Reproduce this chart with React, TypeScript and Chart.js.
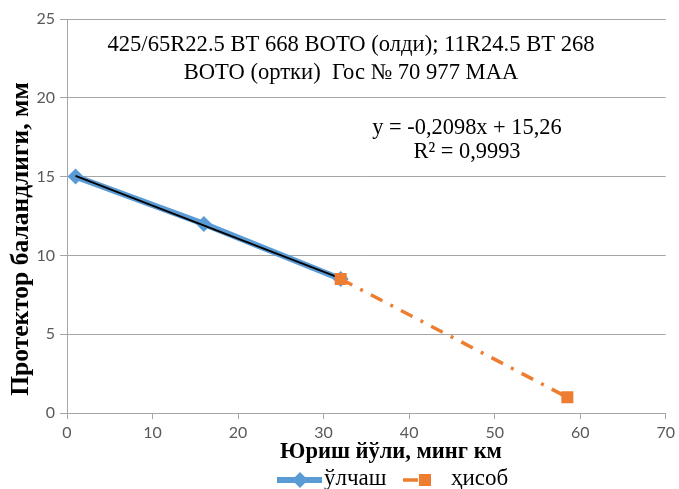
import React, { useEffect, useRef } from "react";
import { Chart, registerables } from "chart.js";

Chart.register(...registerables);

// Measured tread depth (mm) against mileage (thousand km)
const measuredKm = [1, 16, 32];
const measuredMm = [15, 12, 8.5];
// Calculated extension to the wear limit
const forecastKm = [32, 58.5];
const forecastMm = [8.5, 1];
// Linear fit of the measured points
const trendSlope = -0.2098;
const trendIntercept = 15.26;
const trendRangeKm = [1, 32];

const seriesNames = ["ўлчаш", "ҳисоб"];
const titleLines = [
  "425/65R22.5 BT 668 BOTO (олди); 11R24.5 BT 268",
  "BOTO (ортки)  Гос № 70 977 МАА",
];
const equationLines = ["y = -0,2098x + 15,26", "R² = 0,9993"];
const xTitle = "Юриш йўли, минг км";
const yTitle = "Протектор баландлиги, мм";

const BLUE = "#5B9BD5";
const ORANGE = "#ED7D31";
const GRID = "#A6A6A6";
const TICK = "#595959";
const SERIF = "'Liberation Serif', 'DejaVu Serif', serif";

const annotations = {
  id: "annotations",
  afterDraw(chart: any) {
    const { ctx } = chart;
    ctx.save();
    ctx.fillStyle = "#000";
    ctx.textBaseline = "middle";

    // caption inside the plot
    ctx.font = `22.6px ${SERIF}`;
    ctx.textAlign = "center";
    ctx.fillText(titleLines[0], 351, 45);
    ctx.fillText(titleLines[1], 351, 73);

    // regression equation
    ctx.font = `22.4px ${SERIF}`;
    ctx.fillText(equationLines[0], 467, 128);
    ctx.fillText(equationLines[1], 467, 152);

    // axis titles
    ctx.font = `bold 22.5px ${SERIF}`;
    ctx.fillText(xTitle, 391, 452);
    ctx.save();
    ctx.font = `bold 25.5px ${SERIF}`;
    ctx.translate(21, 239);
    ctx.rotate(-Math.PI / 2);
    ctx.fillText(yTitle, 0, 0);
    ctx.restore();

    // legend
    const ds = chart.data.datasets;
    const legendY = 480;
    const items = [
      { ds: ds[0], x0: 277, x1: 322, mark: 300, text: 324 },
      { ds: ds[2], x0: 403, x1: 418, mark: 425, text: 451 },
    ];
    ctx.font = `23px ${SERIF}`;
    ctx.textAlign = "left";
    items.forEach((it) => {
      ctx.save();
      ctx.strokeStyle = it.ds.borderColor;
      ctx.lineWidth = it.ds.borderWidth;
      ctx.beginPath();
      ctx.moveTo(it.x0, legendY);
      ctx.lineTo(it.x1, legendY);
      ctx.stroke();
      ctx.fillStyle = it.ds.pointBackgroundColor;
      ctx.beginPath();
      if (it.ds.pointStyle === "rectRot") {
        const r = it.ds.pointRadius;
        ctx.moveTo(it.mark, legendY - r);
        ctx.lineTo(it.mark + r, legendY);
        ctx.lineTo(it.mark, legendY + r);
        ctx.lineTo(it.mark - r, legendY);
      } else {
        const s = it.ds.pointRadius * Math.SQRT1_2;
        ctx.rect(it.mark - s, legendY - s, 2 * s, 2 * s);
      }
      ctx.closePath();
      ctx.fill();
      ctx.restore();
      ctx.fillStyle = "#000";
      ctx.fillText(it.ds.label, it.text, legendY - 1);
    });
    ctx.restore();
  },
};

export default function App() {
  const ref = useRef<HTMLCanvasElement | null>(null);

  useEffect(() => {
    document.body.style.margin = "0";
    const canvas = ref.current;
    if (!canvas) return;

    const measured = measuredKm.map((k, i) => ({ x: k, y: measuredMm[i] }));
    const forecast = forecastKm.map((k, i) => ({ x: k, y: forecastMm[i] }));
    const trend = trendRangeKm.map((k) => ({ x: k, y: trendSlope * k + trendIntercept }));

    const chart = new Chart(canvas, {
      type: "scatter",
      data: {
        datasets: [
          {
            label: seriesNames[0],
            data: measured,
            showLine: true,
            borderColor: BLUE,
            borderWidth: 6,
            pointStyle: "rectRot",
            pointRadius: 8,
            pointBackgroundColor: BLUE,
            pointBorderWidth: 0,
            order: 3,
          },
          {
            label: "trend",
            data: trend,
            showLine: true,
            borderColor: "#000",
            borderWidth: 1.8,
            pointRadius: 0,
            order: 2,
          },
          {
            label: seriesNames[1],
            data: forecast,
            showLine: true,
            borderColor: ORANGE,
            borderWidth: 3.5,
            borderDash: [13, 9, 3, 9],
            pointStyle: "rect",
            pointRadius: 8.5,
            pointBackgroundColor: ORANGE,
            pointBorderWidth: 0,
            order: 1,
          },
        ],
      },
      options: {
        animation: false,
        responsive: false,
        layout: { padding: { left: 0, right: 9, top: 19, bottom: 0 } },
        plugins: {
          legend: { display: false },
          tooltip: { enabled: false },
        },
        scales: {
          x: {
            type: "linear",
            min: 0,
            max: 70,
            afterFit: (s: any) => {
              s.height = 76;
            },
            ticks: {
              stepSize: 10,
              color: TICK,
              padding: 4,
              font: { family: "Lato", size: 16 },
            },
            grid: {
              drawOnChartArea: false,
              drawTicks: true,
              tickLength: 6,
              color: GRID,
            },
            border: { color: GRID, width: 1 },
          },
          y: {
            min: 0,
            max: 25,
            afterFit: (s: any) => {
              s.width = 67;
            },
            ticks: {
              stepSize: 5,
              color: TICK,
              padding: 5,
              font: { family: "Lato", size: 16 },
            },
            grid: { color: GRID, tickLength: 7, lineWidth: 1 },
            border: { color: GRID, width: 1 },
          },
        },
      },
      plugins: [annotations],
    });

    return () => chart.destroy();
  }, []);

  return (
    <div style={{ width: 679, height: 489 }}>
      <canvas ref={ref} width={679} height={489} />
    </div>
  );
}
